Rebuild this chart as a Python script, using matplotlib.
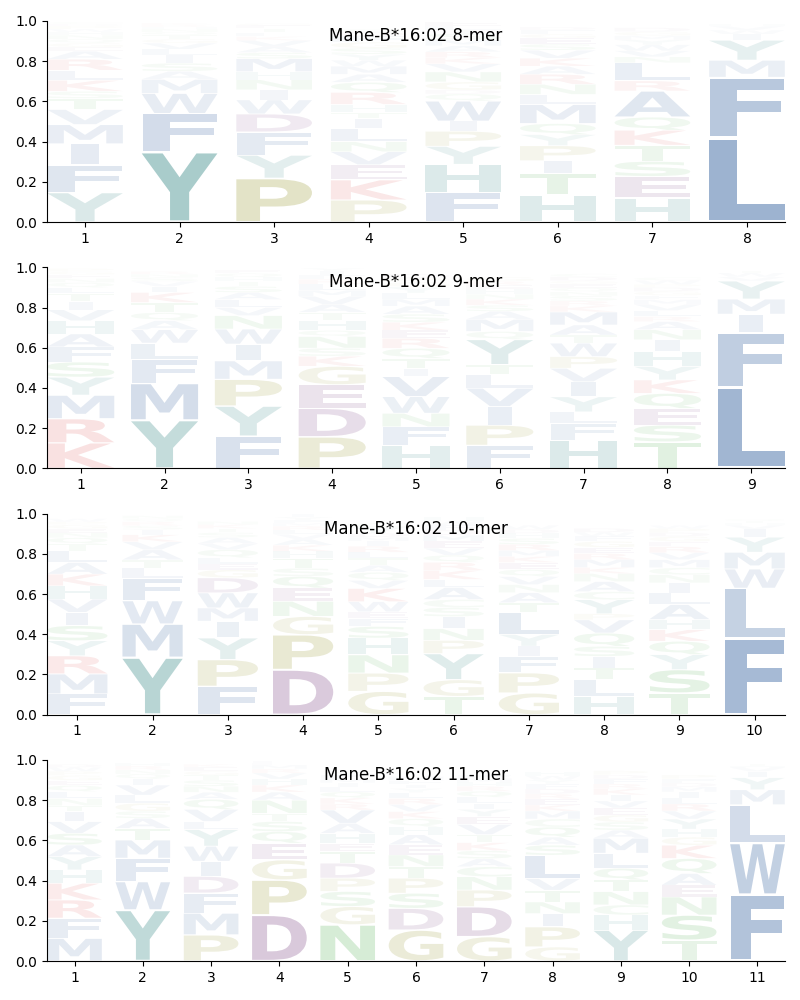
"""
Sequence logos for Mane-B*16:02 peptides of 8 to 11 residues.
Letter height = frequency, letter opacity = frequency (faded logos).
"""

import matplotlib
matplotlib.use("Agg")
import matplotlib.pyplot as plt
from matplotlib.textpath import TextPath
from matplotlib.patches import PathPatch
from matplotlib.font_manager import FontProperties
from matplotlib.transforms import Affine2D

ALLELE = "Mane-B*16:02"

# --- Data: per position, residues bottom -> top with their frequencies ------

letters_8 = ["YFIMVTSKLRAEGQNHWPDC", "YFWMASILVGTQNHRK", "PYFDWINHMSAVKLTEG",
             "PKEVNLITHRQAMWYSGFDC", "FHYPIWQDGNVKRAMSTLE", "HTIPYQMLNRAKVSEGFD",
             "HESTKQARLNVWYMGD", "LFMYIWVH"]
heights_8 = [
    [.147, .137, .105, .096, .075, .055, .035, .055, .05, .055, .04, .02, .02, .02, .02, .015, .015, .015, .01, .01],
    [.35, .19, .10, .07, .04, .04, .04, .03, .03, .02, .02, .015, .015, .01, .01, .01],
    [.218, .115, .115, .09, .07, .05, .05, .04, .065, .03, .03, .03, .02, .02, .02, .015, .01],
    [.11, .10, .075, .065, .05, .065, .05, .03, .04, .06, .05, .04, .04, .03, .03, .03, .03, .03, .02, .015],
    [.147, .14, .09, .075, .05, .10, .035, .02, .04, .05, .04, .03, .03, .03, .03, .03, .02, .02, .02],
    [.135, .105, .065, .075, .055, .055, .095, .05, .05, .05, .04, .04, .04, .03, .03, .02, .02, .015],
    [.12, .107, .075, .08, .075, .065, .13, .05, .09, .03, .03, .03, .025, .02, .02, .02],
    [.42, .30, .085, .10, .03, .02, .02, .01],
]

letters_9 = ["KRMYSFAHVITLQNEGP", "YMFLWAQTKIVSNR", "FYPMIWNVLASTHQE",
             "PDEGKSNQHTAVMLRFIY", "HFNWVITQREKSAMLYGPD", "FPIVLTYQMASKNHERG",
             "HFLYIVPWTAMKRSNQEGDC", "TSEQKYHINARLVMFGDPWC", "LFIMYVWT"]
heights_9 = [
    [.127, .12, .117, .09, .075, .075, .065, .065, .055, .04, .04, .03, .025, .02, .02, .015, .015],
    [.24, .183, .117, .083, .067, .045, .04, .05, .05, .03, .025, .02, .015, .015],
    [.16, .15, .133, .092, .083, .075, .067, .04, .04, .035, .03, .025, .02, .02, .015],
    [.157, .142, .117, .092, .05, .04, .058, .03, .05, .04, .04, .04, .03, .03, .025, .02, .02, .015],
    [.115, .092, .067, .083, .10, .04, .05, .05, .05, .04, .04, .04, .04, .035, .03, .03, .025, .02, .02],
    [.115, .10, .092, .092, .067, .05, .125, .04, .06, .04, .03, .03, .025, .025, .02, .02, .02],
    [.14, .083, .058, .075, .075, .067, .058, .067, .04, .05, .065, .03, .025, .025, .02, .02, .02, .015, .02, .015],
    [.132, .083, .083, .075, .067, .067, .075, .058, .05, .04, .025, .03, .03, .025, .02, .02, .02, .015, .02, .015],
    [.403, .272, .092, .075, .09, .02, .02, .01],
]

letters_10 = ["FMRYSIVHKALTQNEGPW", "YMWFLTAVKISRQN", "FPYIMWDGELQVASTKN",
              "DPGNEQSTHKAVLRMFYI", "GPNHSFEWKVQATLRIMDYC", "TGYPNISCALKRQVEMDFWH",
              "GPFIYLTANVQEKMRSHDW", "HLTISQVPYCANKMREGFWD", "TSYQKHALINCMVREGDPW",
              "FLWMYIVHTQ"]
heights_10 = [
    [.103, .10, .09, .075, .075, .066, .066, .066, .058, .058, .058, .035, .03, .025, .02, .02, .015, .015],
    [.285, .166, .116, .113, .05, .04, .05, .04, .035, .025, .02, .02, .015, .015],
    [.141, .133, .108, .083, .066, .075, .075, .04, .03, .03, .04, .03, .03, .025, .02, .02, .015],
    [.224, .174, .091, .075, .066, .058, .04, .05, .035, .03, .03, .025, .02, .02, .015, .015, .015, .015],
    [.116, .091, .091, .083, .058, .04, .033, .05, .066, .04, .04, .035, .035, .03, .03, .025, .02, .02, .03, .02],
    [.091, .083, .13, .066, .058, .06, .045, .04, .06, .04, .045, .04, .035, .035, .035, .03, .025, .025, .02, .02],
    [.108, .10, .083, .05, .058, .108, .05, .05, .04, .04, .035, .035, .03, .03, .03, .03, .025, .02, .02],
    [.091, .083, .058, .058, .05, .066, .066, .03, .07, .04, .05, .04, .03, .04, .03, .03, .03, .025, .02, .02],
    [.108, .116, .075, .066, .058, .05, .075, .058, .05, .04, .035, .04, .035, .03, .025, .025, .02, .02, .015],
    [.38, .249, .096, .083, .075, .04, .02, .01, .01, .01],
]

letters_11 = ["MFRKHYASVITNLQEGPWD", "YWFMTASGLVIQNRH", "PMFDIWYLVQANSTGEK",
              "DPGEQSTNAKHVRMLF", "NGSPDTEHAVRKQLIMFY", "GDSPTNEAHQKVRLYIFM",
              "GDPNCASKTVEYILQRHMF", "GPINTVLSAQCMKERDFYWH", "YHCNTQLMASGEVIKRFDP",
              "TSNEAQKGHYVRLIMDFP", "FWLMYIVHT"]
heights_11 = [
    [.113, .10, .091, .083, .066, .066, .058, .058, .058, .05, .03, .035, .035, .03, .025, .025, .02, .02, .015],
    [.254, .141, .116, .091, .058, .05, .035, .04, .04, .05, .03, .025, .02, .02, .015],
    [.13, .108, .10, .083, .075, .075, .083, .04, .06, .05, .035, .03, .03, .025, .02, .02, .015],
    [.229, .174, .10, .083, .058, .05, .04, .066, .04, .035, .03, .03, .02, .02, .01, .01],
    [.18, .091, .075, .066, .075, .058, .04, .05, .05, .066, .03, .03, .03, .025, .02, .02, .02, .015],
    [.154, .108, .075, .075, .058, .058, .05, .05, .04, .04, .035, .035, .03, .03, .02, .02, .02, .02],
    [.121, .149, .083, .066, .05, .04, .04, .04, .04, .05, .04, .035, .03, .03, .03, .025, .02, .02, .015],
    [.07, .10, .066, .058, .058, .058, .116, .05, .04, .05, .04, .04, .03, .03, .025, .025, .025, .02, .02, .02],
    [.154, .075, .05, .066, .058, .058, .075, .075, .04, .04, .035, .035, .035, .03, .03, .025, .025, .02, .02],
    [.104, .124, .091, .058, .058, .075, .066, .04, .04, .05, .04, .035, .03, .03, .025, .02, .02, .02],
    [.33, .257, .19, .075, .06, .03, .02, .01, .01],
]

panels = [("8-mer", letters_8, heights_8), ("9-mer", letters_9, heights_9),
          ("10-mer", letters_10, heights_10), ("11-mer", letters_11, heights_11)]

# --- Style ------------------------------------------------------------------

GROUPS = {
    "AVLIMFW": "#164a91",   # hydrophobic
    "YH":      "#0a6e6c",   # aromatic / his
    "PG":      "olive",
    "DE":      "#5a1464",
    "KR":      "#d41414",
    "STNQC":   "#1e961e",
}
COLORS = {aa: c for group, c in GROUPS.items() for aa in group}

WIDTH = 0.8
VPAD = 0.05
FONT = FontProperties(family="DejaVu Sans", weight="bold")
_paths = {}


def glyph_path(aa):
    if aa not in _paths:
        _paths[aa] = TextPath((0, 0), aa, size=1, prop=FONT)
    return _paths[aa]


E_WIDTH = glyph_path("E").get_extents().width


def draw_letter(ax, aa, x, y0, h):
    path = glyph_path(aa)
    ext = path.get_extents()
    # narrow letters are not stretched more than an 'E'
    sx = min(WIDTH / ext.width, WIDTH / E_WIDTH)
    sy = h * (1 - VPAD) / ext.height
    w = ext.width * sx
    t = (Affine2D().translate(-ext.x0, -ext.y0).scale(sx, sy)
         .translate(x - w / 2, y0 + h * VPAD / 2))
    ax.add_patch(PathPatch(t.transform_path(path), facecolor=COLORS[aa],
                           edgecolor="none", alpha=min(1.0, h)))


fig, axes = plt.subplots(4, 1, figsize=(8, 10))
fig.subplots_adjust(left=0.059, right=0.981, top=0.979, bottom=0.039, hspace=0.225)

for ax, (name, letters, heights) in zip(axes, panels):
    for i, (seq, hs) in enumerate(zip(letters, heights)):
        y = 0.0
        for aa, h in zip(seq, hs):
            draw_letter(ax, aa, i + 1, y, h)
            y += h
    n = len(letters)
    ax.set_xlim(0.6, n + 0.4)
    ax.set_ylim(0, 1)
    ax.set_xticks(range(1, n + 1))
    ax.set_yticks([0, 0.2, 0.4, 0.6, 0.8, 1.0])
    ax.spines["top"].set_visible(False)
    ax.spines["right"].set_visible(False)
    ax.text(0.5, 0.925, f"{ALLELE} {name}", transform=ax.transAxes,
            ha="center", va="center", fontsize=12)

plt.savefig("out.png", dpi=100)
